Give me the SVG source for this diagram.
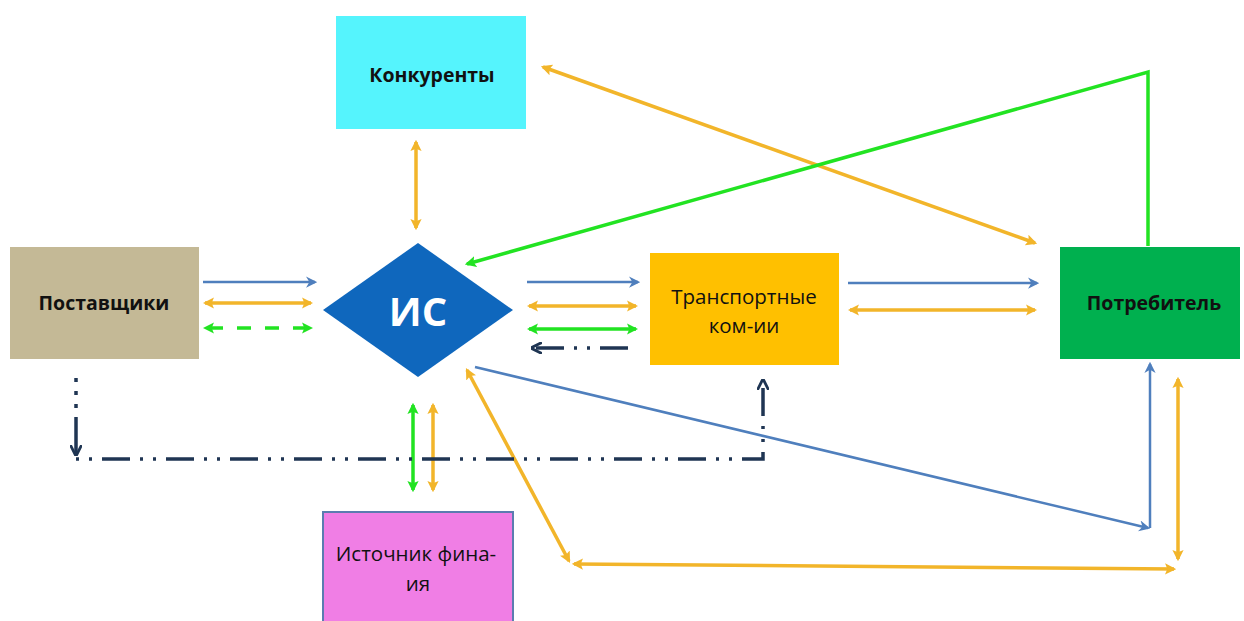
<svg xmlns="http://www.w3.org/2000/svg" width="1244" height="621" viewBox="0 0 1244 621">
<defs>
<style>
.bl{stroke:#4f7fbd;stroke-width:2.5;fill:none}
.or{stroke:#f2b52a;stroke-width:3.5;fill:none}
.gr{stroke:#22e322;stroke-width:3.5;fill:none}
.nv{stroke:#1f3553;stroke-width:3.5;fill:none}
.lbl{font-family:"Open Sans","Liberation Sans",sans-serif;fill:#111;text-anchor:middle}
.b{font-weight:bold}
</style>
<marker id="mb" viewBox="0 0 10 10" refX="8" refY="5" markerWidth="4.5" markerHeight="4.5" orient="auto-start-reverse" markerUnits="strokeWidth"><path d="M0,0 L10,5 L0,10 L3,5 Z" fill="#4f7fbd"/></marker>
<marker id="mo" viewBox="0 0 10 10" refX="8" refY="5" markerWidth="3.2" markerHeight="3.2" orient="auto-start-reverse" markerUnits="strokeWidth"><path d="M0,0 L10,5 L0,10 L2,5 Z" fill="#f2b52a"/></marker>
<marker id="mg" viewBox="0 0 10 10" refX="8" refY="5" markerWidth="3.2" markerHeight="3.2" orient="auto-start-reverse" markerUnits="strokeWidth"><path d="M0,0 L10,5 L0,10 L2,5 Z" fill="#22e322"/></marker>
<marker id="mn" viewBox="0 0 10 10" refX="8" refY="5" markerWidth="3.2" markerHeight="3.2" orient="auto-start-reverse" markerUnits="strokeWidth"><path d="M0,0 L10,5 L0,10" fill="none" stroke="#1f3553" stroke-width="2.5"/></marker>
</defs>
<rect width="1244" height="621" fill="#fff"/>

<g id="connectors">
<line class="bl" x1="203" y1="282" x2="315" y2="282" marker-end="url(#mb)"/>
<line class="or" x1="205" y1="303" x2="311" y2="303" marker-start="url(#mo)" marker-end="url(#mo)"/>
<line class="gr" x1="205" y1="328" x2="311" y2="328" stroke-dasharray="14 14" stroke-dashoffset="-4" marker-start="url(#mg)" marker-end="url(#mg)"/>
<line class="bl" x1="527" y1="282" x2="638" y2="282" marker-end="url(#mb)"/>
<line class="or" x1="529" y1="306" x2="636" y2="306" marker-start="url(#mo)" marker-end="url(#mo)"/>
<line class="gr" x1="529" y1="329" x2="636" y2="329" marker-start="url(#mg)" marker-end="url(#mg)"/>
<line class="nv" x1="628" y1="348" x2="533" y2="348" stroke-dasharray="28 10 3 10 3 10" marker-end="url(#mn)"/>
<line class="bl" x1="848" y1="283" x2="1037" y2="283" marker-end="url(#mb)"/>
<line class="or" x1="850" y1="310" x2="1035" y2="310" marker-start="url(#mo)" marker-end="url(#mo)"/>
<line class="or" x1="416" y1="142" x2="416" y2="228" stroke-width="3" marker-start="url(#mo)" marker-end="url(#mo)"/>
<line class="or" x1="543" y1="67" x2="1035" y2="243" marker-start="url(#mo)" marker-end="url(#mo)"/>
<polyline class="gr" points="1148,246 1148,72 467,264" marker-end="url(#mg)"/>
<polyline class="bl" points="475,367 1148,528" marker-end="url(#mb)"/>
<line class="bl" x1="1150" y1="528" x2="1150" y2="364" marker-end="url(#mb)"/>
<line class="or" x1="467" y1="370" x2="569" y2="561" marker-start="url(#mo)" marker-end="url(#mo)"/>
<line class="or" x1="574" y1="564" x2="1174" y2="569" marker-start="url(#mo)" marker-end="url(#mo)"/>
<line class="or" x1="1178" y1="379" x2="1178" y2="559" stroke-width="3" marker-start="url(#mo)" marker-end="url(#mo)"/>
<line class="gr" x1="413" y1="405" x2="413" y2="490" marker-start="url(#mg)" marker-end="url(#mg)"/>
<line class="or" x1="433" y1="405" x2="433" y2="490" stroke-width="3" marker-start="url(#mo)" marker-end="url(#mo)"/>
<line class="nv" x1="76" y1="378" x2="76" y2="420" stroke-dasharray="4 9"/>
<line class="nv" x1="76" y1="420" x2="76" y2="454" marker-end="url(#mn)"/>
<polyline class="nv" points="76,459 763,459 763,381" stroke-dasharray="3 10 3 10 28 10" marker-end="url(#mn)"/>
</g>

<g id="node-postavshchiki">
<rect x="10" y="247" width="189" height="112" fill="#c4b996"/>
<text class="lbl b" x="104" y="310" font-size="19.5">Поставщики</text>
</g>
<g id="node-is">
<polygon points="418,243 513,310 418,377 323,310" fill="#0f67bd"/>
<text x="418" y="326" font-family="Open Sans, Liberation Sans, sans-serif" font-weight="bold" font-size="40" fill="#fff" text-anchor="middle">ИС</text>
</g>
<g id="node-konkurenty">
<rect x="336" y="16" width="190" height="113" fill="#55f4fd"/>
<text class="lbl b" x="432" y="82" font-size="19.5">Конкуренты</text>
</g>
<g id="node-transport">
<rect x="650" y="253" width="189" height="112" fill="#ffc000"/>
<text class="lbl" x="744" y="304" font-size="20.5">Транспортные</text>
<text class="lbl" x="744" y="333" font-size="20.5">ком-ии</text>
</g>
<g id="node-potrebitel">
<rect x="1060" y="247" width="180" height="112" fill="#00b04f"/>
<text class="lbl b" x="1154" y="310" font-size="19.5">Потребитель</text>
</g>
<g id="node-istochnik">
<rect x="323" y="512" width="190" height="115" fill="#f07ee5" stroke="#5b7cb0" stroke-width="2"/>
<text class="lbl" x="416" y="561" font-size="20.5">Источник фина-</text>
<text class="lbl" x="418" y="591" font-size="20.5">ия</text>
</g>
</svg>
